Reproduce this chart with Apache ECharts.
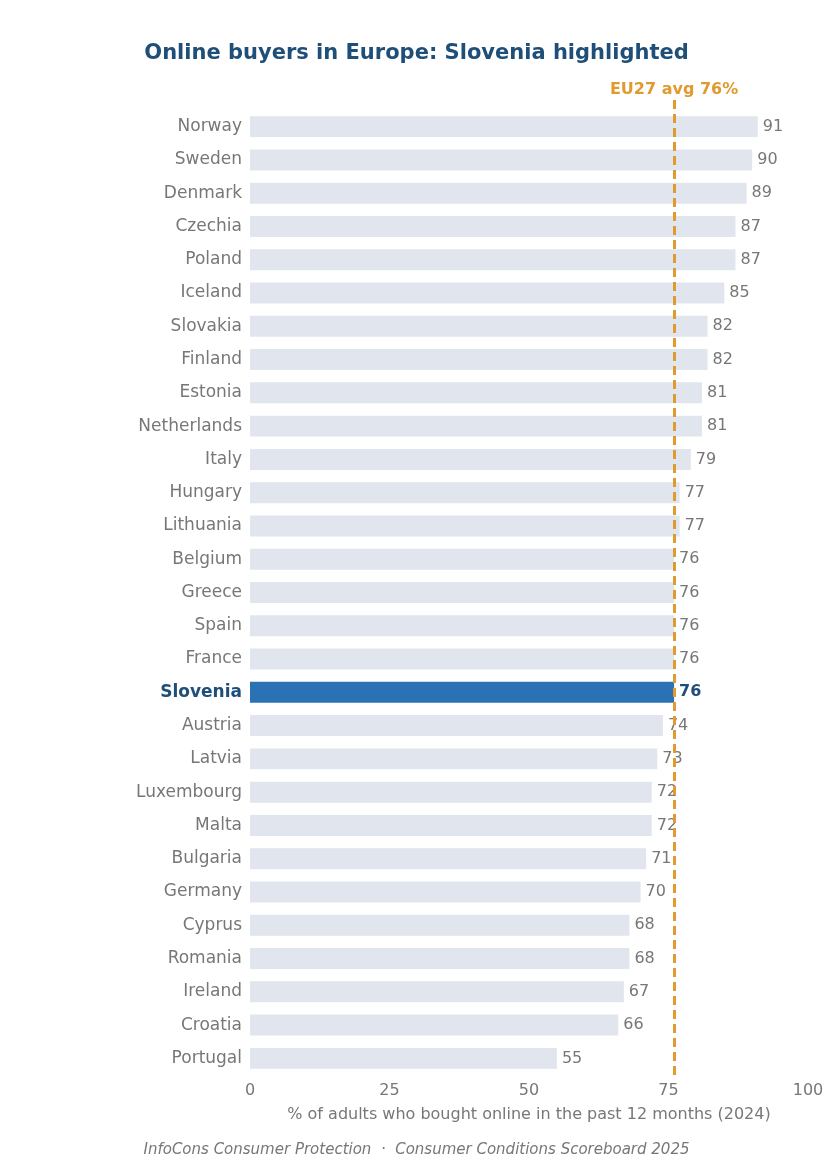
<!DOCTYPE html>
<html>
<head>
<meta charset="utf-8">
<script src="https://cdn.jsdelivr.net/npm/echarts@6/dist/echarts.min.js"></script>
<style>html,body{margin:0;padding:0;background:#fff}#chart{width:833px;height:1173px}</style>
</head>
<body>
<div id="chart"></div>
<script>
const countries = ['Norway','Sweden','Denmark','Czechia','Poland','Iceland','Slovakia','Finland','Estonia','Netherlands','Italy','Hungary','Lithuania','Belgium','Greece','Spain','France','Slovenia','Austria','Latvia','Luxembourg','Malta','Bulgaria','Germany','Cyprus','Romania','Ireland','Croatia','Portugal'];
const values = [91,90,89,87,87,85,82,82,81,81,79,77,77,76,76,76,76,76,74,73,72,72,71,70,68,68,67,66,55];
const highlight = 'Slovenia';
const euAvg = 76;

const chart = echarts.init(document.getElementById('chart'));
let data = values.map((v, i) => {
  const hi = countries[i] === highlight;
  return {
    value: v,
    itemStyle: { color: hi ? '#2b72b5' : '#e1e6ee' },
    label: hi ? { color: '#1f4e79', fontWeight: 'bold' } : {}
  };
});

chart.setOption({
  animation: false,
  title: {
    text: 'Online buyers in Europe: Slovenia highlighted',
    left: 'center', top: 38,
    textStyle: { color: '#1f4e79', fontSize: 21, fontWeight: 'bold', fontFamily: 'DejaVu Sans' }
  },
  graphic: [{
    type: 'text', left: 'center', top: 1143,
    style: { text: 'InfoCons Consumer Protection  ·  Consumer Conditions Scoreboard 2025', fill: '#777', font: 'italic 15px "DejaVu Sans"' }
  }],
  grid: { left: 250, right: 25, top: 110, bottom: 98 },
  xAxis: {
    type: 'value', min: 0, max: 100, interval: 25,
    name: '% of adults who bought online in the past 12 months (2024)',
    nameLocation: 'middle', nameGap: 32,
    nameTextStyle: { color: '#777', fontSize: 16, fontFamily: 'DejaVu Sans' },
    axisLabel: { color: '#777', fontSize: 16, fontFamily: 'DejaVu Sans' },
    axisLine: { show: false }, axisTick: { show: false }, splitLine: { show: false }
  },
  yAxis: {
    type: 'category', data: countries, inverse: true,
    axisLine: { show: false }, axisTick: { show: false },
    axisLabel: {
      fontSize: 17, fontFamily: 'DejaVu Sans', margin: 8,
      color: (v) => v === highlight ? '#1f4e79' : '#777',
      formatter: (v) => v === highlight ? '{b|' + v + '}' : v,
      rich: { b: { color: '#1f4e79', fontWeight: 'bold', fontSize: 17, fontFamily: 'DejaVu Sans' } }
    }
  },
  series: [{
    type: 'bar', data: data, barCategoryGap: '37%',
    label: { show: true, position: 'right', distance: 5, color: '#777', fontSize: 16, fontFamily: 'DejaVu Sans' },
    markLine: {
      symbol: 'none', silent: true,
      lineStyle: { color: '#e09b30', type: [9, 5], width: 3 },
      label: { show: true, position: 'end', formatter: 'EU27 avg ' + euAvg + '%', color: '#e09b30', fontSize: 16, fontWeight: 'bold', fontFamily: 'DejaVu Sans', distance: 2 },
      data: [[{ xAxis: euAvg, y: 1075 }, { xAxis: euAvg, y: 100 }]]
    }
  }]
});
</script>
</body>
</html>
